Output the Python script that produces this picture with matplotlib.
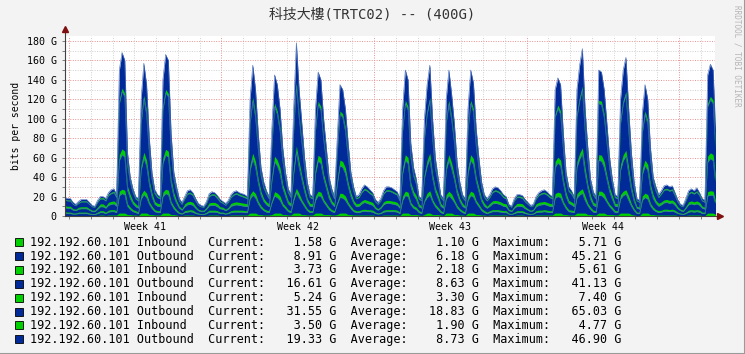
import numpy as np
import matplotlib
matplotlib.use('Agg')
import matplotlib.pyplot as plt
from matplotlib.patches import Rectangle

# 3 hour samples (G bits/s), first sample starts 6 h before week 41
sample_hours = 3
first_hour = -6

# stack order: in1, out1, in2, out2, in3, out3, in4, out4
in1 = [.5, .5,
       .5, .5, .5, .5, .5, .5, .5, .5,
       .5, .5, .5, 1, 1, .5, 1, 1,
       1, 1, 3, 3, 3, 1.5, 1.5, 1,
       1, .5, 3, 3, 3, 1.5, 1.5, 1,
       1, 1, 3, 3, 3, 1.5, 1.5, 1,
       .5, .5, 1, 1, 1, 1, .5, .5,
       .5, .5, .5, 1, 1, 1, 1, .5,
       .5, .5, .5, 1, 1, 1, 1, 1,
       1, 1, 3, 3, 3, 1.5, 1.5, 1,
       1, 1, 1.5, 3, 3, 3, 1.5, 1.5,
       1, 1, 3, 3, 3, 1.5, 1.5, 1,
       1, 1, 3, 3, 3, 1.5, 1.5, 1.5,
       1, 1, 1.5, 3, 3, 3, 1.5, 1.5,
       1, 1, 1, 1, 1, 1, 1, 1,
       .5, .5, .5, 1, 1, 1, 1, 1,
       1, .5, 3, 3, 3, 1.5, 1.5, 1.5,
       1, .5, 1.5, 3, 3, 1.5, 1.5, 1.5,
       1, .5, 3, 3, 3, 1.5, 1.5, 1,
       1, .5, 3, 3, 3, 1.5, 1.5, 1,
       1, .5, 1, 1, 1, 1, 1, 1,
       1, .5, .5, .5, 1, 1, 1, .5,
       .5, .5, .5, 1, 1, 1, 1, 1,
       1, 1, 3, 3, 3, 1.5, 1.5, 1,
       1, 1, 3, 3, 3, 3, 1.5, 1.5,
       1, 1, 3, 3, 3, 1.5, 1.5, 1.5,
       1, 1, 3, 3, 3, 3, 1.5, 1,
       .5, .5, 3, 3, 3, 1.5, 1.5, 1,
       1, 1, 1, 1, 1, 1, 1, .5,
       .5, .5, .5, 1, 1, 1, 1, 1,
       .5, .5, 3, 3, 3, 1.5]

out1 = [2.5, 2,
        2, 1.5, 1.5, 2, 2, 2, 2, 1.5,
        1, 1, 2, 2.5, 2.5, 2, 3, 3.5,
        3.5, 2.5, 18, 20, 19, 8.5, 5, 3.5,
        2.5, 2, 14.5, 19, 16, 10.5, 6, 3.5,
        2.5, 2.5, 17, 20, 19, 11, 6, 3.5,
        2, 1.5, 2.5, 3, 3.5, 3, 2, 1.5,
        1, 1, 2, 3, 3, 3, 2.5, 2,
        2, 1.5, 2, 2.5, 3, 3, 3, 3,
        2.5, 2.5, 14.5, 18.5, 15.5, 11, 6.5, 4.5,
        3, 2.5, 12, 17.5, 16, 13, 9, 6,
        3.5, 2.5, 13, 21, 15.5, 12.5, 8, 4.5,
        2.5, 2.5, 13, 18, 17, 13, 9, 5,
        3.5, 2.5, 10.5, 16, 15.5, 13, 10, 6,
        3.5, 2.5, 2.5, 3.5, 4, 3.5, 3.5, 3,
        2, 1.5, 2, 3, 3.5, 3.5, 3.5, 3.5,
        3, 2, 13, 18, 17, 10, 6.5, 5,
        2.5, 2, 13, 16, 18.5, 13, 8, 5,
        2.5, 2, 14.5, 18, 15, 12.5, 7, 4.5,
        2.5, 2, 13, 18, 16.5, 12, 8, 4.5,
        2.5, 2, 2.5, 3.5, 3.5, 3.5, 3, 2.5,
        2.5, 1.5, 1, 2, 2.5, 2.5, 2.5, 2,
        1.5, 1, 1.5, 2.5, 3, 3, 3.5, 3,
        2.5, 2.5, 15.5, 17, 16, 11, 6, 3.5,
        3, 2.5, 15.5, 18.5, 20.5, 13, 9, 5,
        3, 2.5, 18, 18, 15.5, 12.5, 8, 5,
        2.5, 2.5, 14.5, 18, 19.5, 13, 8.5, 4.5,
        2, 2, 13, 16, 14.5, 9, 5, 3.5,
        2.5, 3, 4, 4, 3.5, 4, 3, 2,
        1.5, 1, 2, 3, 3.5, 3, 3.5, 3,
        2, 2, 17.5, 18.5, 18, 10.5]

in2 = [1.5, 1.5,
       1.5, 1, 1, 1.5, 1.5, 1.5, 1.5, 1,
       1, 1, 1.5, 2, 2, 1.5, 2, 2,
       2, 2, 4.5, 4.5, 4.5, 2.5, 2.5, 2,
       2, 1.5, 4.5, 4.5, 4.5, 2.5, 2.5, 2,
       2, 2, 4.5, 4.5, 4.5, 2.5, 2.5, 2,
       1.5, 1, 2, 2, 2, 2, 1.5, 1,
       1, 1, 1.5, 2, 2, 2, 2, 1.5,
       1.5, 1, 1.5, 2, 2, 2, 2, 2,
       2, 2, 4.5, 4.5, 4.5, 2.5, 2.5, 2,
       2, 2, 2.5, 4.5, 4.5, 4.5, 2.5, 2.5,
       2, 2, 4.5, 4.5, 4.5, 2.5, 2.5, 2,
       2, 2, 4.5, 4.5, 4.5, 2.5, 2.5, 2.5,
       2, 2, 2.5, 4.5, 4.5, 4.5, 2.5, 2.5,
       2, 2, 2, 2, 2, 2, 2, 2,
       1.5, 1, 1.5, 2, 2, 2, 2, 2,
       2, 1.5, 4.5, 4.5, 4.5, 2.5, 2.5, 2.5,
       2, 1.5, 2.5, 4.5, 4.5, 2.5, 2.5, 2.5,
       2, 1.5, 4.5, 4.5, 4.5, 2.5, 2.5, 2,
       2, 1.5, 4.5, 4.5, 4.5, 2.5, 2.5, 2,
       2, 1.5, 2, 2, 2, 2, 2, 2,
       2, 1, 1, 1.5, 2, 2, 2, 1.5,
       1, 1, 1, 2, 2, 2, 2, 2,
       2, 2, 4.5, 4.5, 4.5, 2.5, 2.5, 2,
       2, 2, 4.5, 4.5, 4.5, 4.5, 2.5, 2.5,
       2, 2, 4.5, 4.5, 4.5, 2.5, 2.5, 2.5,
       2, 2, 4.5, 4.5, 4.5, 4.5, 2.5, 2,
       1.5, 1.5, 4.5, 4.5, 4.5, 2.5, 2.5, 2,
       2, 2, 2, 2, 2, 2, 2, 1.5,
       1, 1, 1.5, 2, 2, 2, 2, 2,
       1.5, 1.5, 4.5, 4.5, 4.5, 2.5]

out2 = [4, 4,
        4, 3, 2.5, 3, 3.5, 3.5, 3.5, 3,
        2, 2, 3, 4, 4, 4, 5, 5.5,
        6, 4.5, 31.5, 35.5, 34, 14, 9, 6,
        4, 4, 25, 33, 28, 18, 9.5, 5.5,
        4.5, 4, 29.5, 35, 34, 19, 10, 6.5,
        4, 3, 4, 5.5, 5.5, 5, 4, 2.5,
        2, 2, 3, 4.5, 5, 5, 4, 3.5,
        3, 2.5, 3, 4.5, 5, 5.5, 5, 4.5,
        4.5, 4, 25, 32.5, 27, 19, 11, 7.5,
        5.5, 4, 20, 30.5, 28, 23, 15.5, 10,
        6, 4.5, 23, 37.5, 27, 21, 13, 7.5,
        4.5, 4, 23, 31, 29.5, 22, 15.5, 9,
        6, 4, 18, 28, 27, 23, 16.5, 10,
        6.5, 4, 4.5, 6, 7, 6.5, 5.5, 5,
        3.5, 3, 4, 5.5, 6.5, 6.5, 6, 5.5,
        5, 4, 23, 31.5, 29.5, 16.5, 11, 8,
        4, 4, 22, 28, 32.5, 22, 13, 9,
        4.5, 4, 25, 31.5, 26, 21, 12, 7.5,
        4.5, 4, 23, 31.5, 29, 20, 13, 7.5,
        4.5, 4, 4.5, 6, 6.5, 6, 5.5, 4.5,
        4, 2.5, 2, 4, 4.5, 4.5, 4, 3.5,
        3, 2, 2.5, 4, 5, 5.5, 5.5, 5,
        4.5, 4, 27, 30, 28, 19, 10, 6.5,
        5.5, 4, 27, 32.5, 36, 23, 15.5, 8,
        5, 4, 31.5, 31, 27, 21, 13, 8,
        4.5, 4, 25, 31.5, 34.5, 23, 14, 7.5,
        4, 3, 22, 28, 25, 15.5, 9, 6.5,
        4.5, 5.5, 6.5, 7, 6.5, 6.5, 5, 3.5,
        2.5, 2, 4, 5.5, 6, 5.5, 6, 5,
        4, 3, 30.5, 33, 31.5, 18]

in3 = [2, 2,
       2, 1.5, 1.5, 2, 2, 2, 2, 1.5,
       1.5, 1.5, 2, 3, 3, 2, 3, 3,
       3, 3, 6, 6, 6, 4, 4, 3,
       3, 2, 6, 6, 6, 4, 4, 3,
       3, 3, 6, 6, 6, 4, 4, 3,
       2, 1.5, 3, 3, 3, 3, 2, 1.5,
       1.5, 1.5, 2, 3, 3, 3, 3, 2,
       2, 1.5, 2, 3, 3, 3, 3, 3,
       3, 3, 6, 6, 6, 4, 4, 3,
       3, 3, 4, 6, 6, 6, 4, 4,
       3, 3, 6, 6, 6, 4, 4, 3,
       3, 3, 6, 6, 6, 4, 4, 4,
       3, 3, 4, 6, 6, 6, 4, 4,
       3, 3, 3, 3, 3, 3, 3, 3,
       2, 1.5, 2, 3, 3, 3, 3, 3,
       3, 2, 6, 6, 6, 4, 4, 4,
       3, 2, 4, 6, 6, 4, 4, 4,
       3, 2, 6, 6, 6, 4, 4, 3,
       3, 2, 6, 6, 6, 4, 4, 3,
       3, 2, 3, 3, 3, 3, 3, 3,
       3, 1.5, 1.5, 2, 3, 3, 3, 2,
       1.5, 1.5, 1.5, 3, 3, 3, 3, 3,
       3, 3, 6, 6, 6, 4, 4, 3,
       3, 3, 6, 6, 6, 6, 4, 4,
       3, 3, 6, 6, 6, 4, 4, 4,
       3, 3, 6, 6, 6, 6, 4, 3,
       2, 2, 6, 6, 6, 4, 4, 3,
       3, 3, 3, 3, 3, 3, 3, 2,
       1.5, 1.5, 2, 3, 3, 3, 3, 3,
       2, 2, 6, 6, 6, 4]

out3 = [6, 5.5,
        5.5, 4.5, 3.5, 4, 5, 5, 5, 4.5,
        3.5, 3, 5, 5, 5, 5.5, 7, 8,
        8.5, 6, 52.5, 59, 56, 22, 13, 8.5,
        5, 5.5, 42, 55, 47, 28, 14, 8,
        6, 5, 49, 58, 56, 30, 14.5, 9.5,
        5.5, 4.5, 5, 8, 8, 7, 5.5, 4,
        3.5, 3, 4, 6.5, 7.5, 7, 5.5, 5,
        4, 4, 5, 6, 7.5, 8, 7, 6.5,
        6, 5, 42, 54, 45.5, 30, 16, 11,
        8, 5, 32, 51, 47, 38, 24, 14.5,
        8.5, 6, 38, 62, 45.5, 34, 20, 11,
        6, 5, 38, 52, 49, 36, 24, 13,
        8.5, 5, 28, 47, 45.5, 38, 26, 14.5,
        9.5, 5, 6, 8.5, 10, 9.5, 8, 7,
        5, 4.5, 5.5, 8, 9.5, 9.5, 9, 8,
        7.5, 5.5, 38, 52.5, 49, 26, 16, 12,
        5, 5.5, 36, 47, 54, 36, 20, 13,
        6, 5.5, 42, 52.5, 44, 34, 18, 11,
        6, 5.5, 38, 52.5, 48, 32, 20, 11,
        6, 5.5, 6, 8.5, 9.5, 9, 8, 6,
        5, 3.5, 3, 5.5, 6, 6, 5.5, 5,
        4.5, 3.5, 3.5, 5, 7, 8, 8, 7.5,
        6, 5, 45.5, 50, 47, 30, 14.5, 9.5,
        8, 5, 45.5, 54, 60, 38, 24, 12,
        7.5, 5, 52.5, 52, 45.5, 34, 20, 12,
        6, 5, 42, 52.5, 57, 38, 22, 11,
        5.5, 5, 37, 47, 42, 24, 13, 9.5,
        6, 8, 10, 10, 9.5, 10, 7, 5,
        3.5, 3.5, 5.5, 8, 8.5, 8, 9, 7,
        5.5, 5, 51, 54.5, 52.5, 28]

in4 = [1, 1,
       1, .5, .5, 1, 1, 1, 1, .5,
       .5, .5, 1, 1.5, 1.5, 1, 1.5, 1.5,
       1.5, 1.5, 3.5, 3.5, 3.5, 2, 2, 1.5,
       1.5, 1, 3.5, 3.5, 3.5, 2, 2, 1.5,
       1.5, 1.5, 3.5, 3.5, 3.5, 2, 2, 1.5,
       1, .5, 1.5, 1.5, 1.5, 1.5, 1, .5,
       .5, .5, 1, 1.5, 1.5, 1.5, 1.5, 1,
       1, .5, 1, 1.5, 1.5, 1.5, 1.5, 1.5,
       1.5, 1.5, 3.5, 3.5, 3.5, 2, 2, 1.5,
       1.5, 1.5, 2, 3.5, 3.5, 3.5, 2, 2,
       1.5, 1.5, 3.5, 3.5, 3.5, 2, 2, 1.5,
       1.5, 1.5, 3.5, 3.5, 3.5, 2, 2, 2,
       1.5, 1.5, 2, 3.5, 3.5, 3.5, 2, 2,
       1.5, 1.5, 1.5, 1.5, 1.5, 1.5, 1.5, 1.5,
       1, .5, 1, 1.5, 1.5, 1.5, 1.5, 1.5,
       1.5, 1, 3.5, 3.5, 3.5, 2, 2, 2,
       1.5, 1, 2, 3.5, 3.5, 2, 2, 2,
       1.5, 1, 3.5, 3.5, 3.5, 2, 2, 1.5,
       1.5, 1, 3.5, 3.5, 3.5, 2, 2, 1.5,
       1.5, 1, 1.5, 1.5, 1.5, 1.5, 1.5, 1.5,
       1.5, .5, .5, 1, 1.5, 1.5, 1.5, 1,
       .5, .5, .5, 1.5, 1.5, 1.5, 1.5, 1.5,
       1.5, 1.5, 3.5, 3.5, 3.5, 2, 2, 1.5,
       1.5, 1.5, 3.5, 3.5, 3.5, 3.5, 2, 2,
       1.5, 1.5, 3.5, 3.5, 3.5, 2, 2, 2,
       1.5, 1.5, 3.5, 3.5, 3.5, 3.5, 2, 1.5,
       1, 1, 3.5, 3.5, 3.5, 2, 2, 1.5,
       1.5, 1.5, 1.5, 1.5, 1.5, 1.5, 1.5, 1,
       .5, .5, 1, 1.5, 1.5, 1.5, 1.5, 1.5,
       1, 1, 3.5, 3.5, 3.5, 2]

out4 = [1.5, 1.5,
        1.5, 1.5, 1, 1, 1.5, 1.5, 1.5, 1.5,
        1, .5, 1, 1, 1, 1.5, 1.5, 2.5,
        2.5, 1.5, 31, 36.5, 34, 10.5, 3, 2.5,
        1, 1.5, 21.5, 33, 27, 13.5, 4.5, 2.5,
        1.5, 1, 27.5, 36, 34, 15, 4.5, 3,
        1.5, 1.5, 1, 2, 2.5, 1.5, 1.5, 1.5,
        1, .5, 1, 1.5, 2, 1.5, 1.5, 1.5,
        1, 1.5, 1, 1.5, 2, 2, 1.5, 1.5,
        1.5, 1, 21.5, 33, 25, 15, 6.5, 4.5,
        2, 1, 16, 29, 27, 19, 11.5, 4.5,
        2.5, 1.5, 19, 40.5, 25, 17.5, 9, 4.5,
        1.5, 1, 19, 30, 27.5, 19, 11.5, 3,
        2.5, 1, 13.5, 27, 25, 19, 12.5, 4.5,
        3, 1, 1.5, 2.5, 3.5, 3, 2.5, 1.5,
        1.5, 1.5, 1.5, 2, 3, 3, 3, 2.5,
        2, 1.5, 19, 31, 27.5, 12.5, 6.5, 3,
        1, 1.5, 19, 27, 33, 19, 9, 3,
        1.5, 1.5, 21.5, 31, 23, 17.5, 8, 4.5,
        1.5, 1.5, 19, 31, 26.5, 16, 9, 4.5,
        1.5, 1.5, 1.5, 2.5, 3, 3, 2, 1.5,
        1, 1, .5, 1.5, 1.5, 1.5, 1.5, 1.5,
        1.5, 1, 1, 1, 1.5, 2, 2.5, 2,
        1.5, 1, 25, 28, 27, 15, 4.5, 3,
        2, 1, 25, 33, 38.5, 19, 11.5, 3,
        2, 1, 31, 30, 25, 17.5, 9, 3,
        1.5, 1, 21.5, 31, 35, 19, 10.5, 4.5,
        1.5, 1, 16, 27, 21.5, 11.5, 3, 3,
        1.5, 2, 3, 3.5, 3, 3, 1.5, 1.5,
        1, 1, 1.5, 2, 2.5, 2, 3, 1.5,
        1.5, 1, 29, 33, 31, 13.5]

series = [in1, out1, in2, out2, in3, out3, in4, out4]
series_colors = ['#00CF00', '#002A97'] * 4

# week grid
week_starts = [0, 7, 14, 21, 28]
week_labels = ['Week 41', 'Week 42', 'Week 43', 'Week 44']
y_major = [0, 20, 40, 60, 80, 100, 120, 140, 160, 180]

# legend
legend_names = ['192.192.60.101 Inbound', '192.192.60.101 Outbound'] * 4
cur_vals = ['1.58 G', '8.91 G', '3.73 G', '16.61 G', '5.24 G', '31.55 G', '3.50 G', '19.33 G']
avg_vals = ['1.10 G', '6.18 G', '2.18 G', '8.63 G', '3.30 G', '18.83 G', '1.90 G', '8.73 G']
max_vals = ['5.71 G', '45.21 G', '5.61 G', '41.13 G', '7.40 G', '65.03 G', '4.77 G', '46.90 G']

title = '科技大樓(TRTC02) -- (400G)'
MONO = 'DejaVu Sans Mono'

W, H = 745, 354
fig = plt.figure(figsize=(W / 100, H / 100), dpi=100)
fig.patch.set_facecolor('#F3F3F3')

ax = fig.add_axes([65 / W, (H - 216) / H, 650 / W, 180 / H])
ax.set_facecolor('white')

n = len(out1)
# sample points at the middle of each 3 h slot
days = (np.arange(n) * sample_hours + first_hour + sample_hours / 2.0) / 24.0
stack = np.cumsum(np.array(series, dtype=float), axis=0)
# paint each cumulative level from zero, top level first
for k in range(len(series) - 1, -1, -1):
    ax.fill_between(days, 0, stack[k], color=series_colors[k], linewidth=0,
                    antialiased=True, zorder=2)
    if series_colors[k] == '#002A97':
        ax.plot(days, stack[k], color='#4A70BE', lw=0.45, zorder=3)

ax.set_xlim(-0.18, 29.65)
ax.set_ylim(0, 185)

ax.set_xticks(week_starts)
ax.set_xticks(np.arange(0, 30), minor=True)
ax.set_xticklabels([])
ax.set_yticks(y_major)
ax.set_yticks(np.arange(10, 185, 10), minor=True)
ax.set_yticklabels([('%d G' % v) if v else '0' for v in y_major], fontfamily=MONO, fontsize=7.2)
ax.tick_params(which='both', length=2, width=0.7, color='#808080', pad=4, labelcolor='#000000')

ax.set_axisbelow(True)
ax.grid(which='minor', color='#D0D0D0', linestyle=(0, (1, 1.5)), linewidth=0.7)
ax.grid(which='major', color='#E89090', linestyle=(0, (1, 1.5)), linewidth=0.7)

for sp in ax.spines.values():
    sp.set_visible(False)

# axis lines with arrows
ax.plot([0, 0], [0, 1.03], transform=ax.transAxes, color='#404040', lw=0.8, clip_on=False, zorder=5)
ax.plot([0, 1.006], [0, 0], transform=ax.transAxes, color='#404040', lw=0.8, clip_on=False, zorder=5)
ax.plot([0], [1.04], marker='^', ms=4, color='#7F1010', transform=ax.transAxes, clip_on=False, zorder=6)
ax.plot([1.008], [0], marker='>', ms=4, color='#7F1010', transform=ax.transAxes, clip_on=False, zorder=6)

for i, lab in enumerate(week_labels):
    ax.text(week_starts[i] + 3.5, -0.035, lab, transform=ax.get_xaxis_transform(),
            ha='center', va='top', fontfamily=MONO, fontsize=7.2)

ax.text(-0.075, 0.5, 'bits per second', transform=ax.transAxes, rotation=90,
        ha='center', va='center', fontfamily=MONO, fontsize=7)

fig.text(0.5, 1 - 15 / H, title, ha='center', va='center', fontsize=10,
         family=[MONO, 'Noto Sans CJK TC'], color='#333333')

fig.text(737 / W, 1 - 5 / H, 'RRDTOOL / TOBI OETIKER', rotation=270, ha='center', va='top',
         fontfamily=MONO, fontsize=5.5, color='#B5B5B5')

# legend rows
for i in range(len(legend_names)):
    yc = 242.3 + i * 13.85
    fig.patches.append(Rectangle((15 / W, 1 - (yc + 4) / H), 8 / W, 8 / H,
                                 transform=fig.transFigure, facecolor=series_colors[i],
                                 edgecolor='black', linewidth=0.6))
    row = '%-23s  Current:%10s  Average:%10s  Maximum:%10s' % (
        legend_names[i], cur_vals[i], avg_vals[i], max_vals[i])
    fig.text(30 / W, 1 - yc / H, row, ha='left', va='center', fontfamily=MONO, fontsize=8.5)

# frame
fig.add_artist(plt.Line2D([0, 1], [0.5 / H, 0.5 / H], color='#9A9A9A', lw=1.5))
fig.add_artist(plt.Line2D([1 - 0.5 / W, 1 - 0.5 / W], [0, 1], color='#9A9A9A', lw=1.5))

fig.savefig('out.png', dpi=100, facecolor=fig.get_facecolor())
